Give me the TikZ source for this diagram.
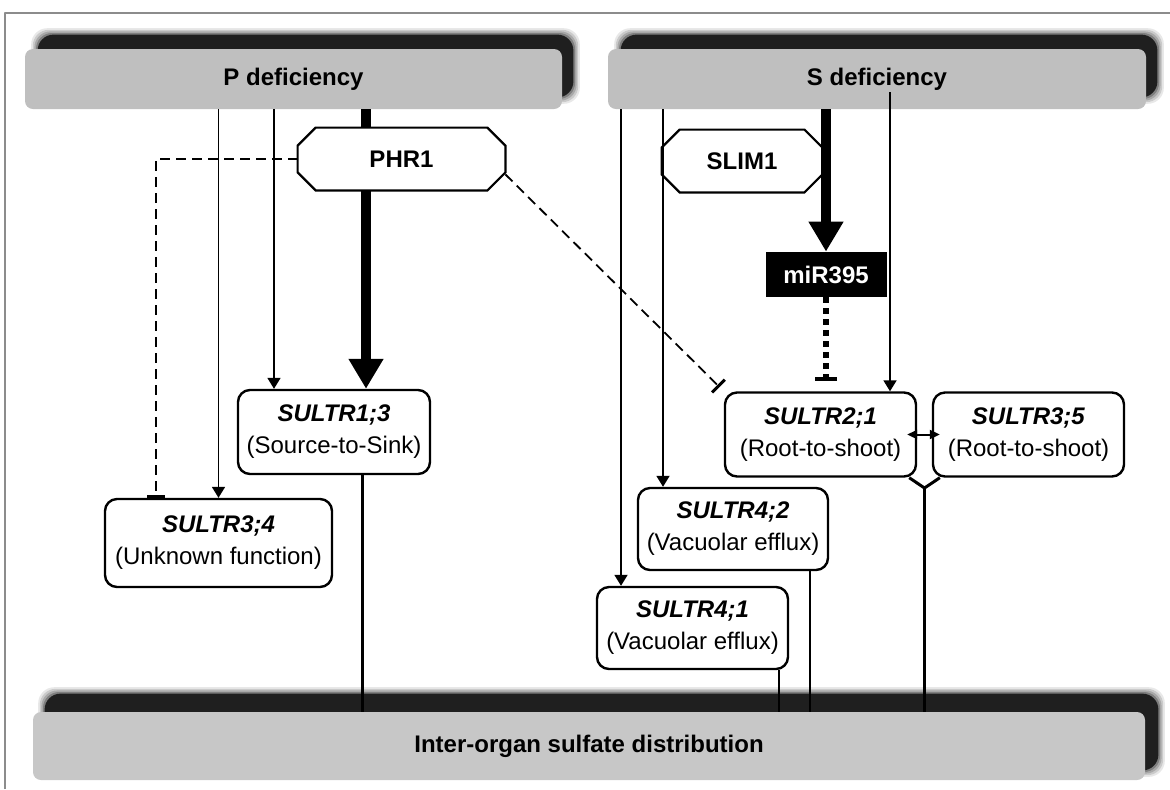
\documentclass[tikz,border=0pt]{standalone}
\usepackage{fontspec}
\setmainfont{Liberation Sans}
\usetikzlibrary{arrows.meta,backgrounds}
\begin{document}
\begin{tikzpicture}[x=0.5pt,y=-0.5pt,line join=round,font=\fontsize{12}{16}\selectfont]
	\tikzset{graybox/.style={fill=black!25,rounded corners=4pt,minimum height=30pt,font=\fontsize{12}{16}\selectfont\bfseries},
		tbox/.style={draw,line width=1.2pt,fill=white,rounded corners=6pt,minimum width=95.5pt,minimum height=42pt,align=center,inner sep=1pt},
		tfbox/.style={minimum height=31pt,font=\fontsize{12}{16}\selectfont\bfseries},
		arr/.style={line width=.9pt,-{Triangle[length=5.5pt,width=6.5pt]}},
		bigarr/.style={line width=5pt,-{Triangle[length=15pt,width=16.5pt]}},
		inhib/.style={line width=.9pt,dash pattern=on 5pt off 3pt,-{Bar[width=9pt,line width=1.5pt]}},
		link/.style={line width=1.5pt}}
	\useasboundingbox (0,0) rectangle (1170,789);
	\draw[black!45,line width=.7pt] (5,789) |- (1170,13);
	% boxes
	\node[graybox,minimum width=268.5pt] (pdef) at (293.5,79) {P deficiency};
	\node[graybox,minimum width=269pt] (sdef) at (877,79) {S deficiency};
	\node[graybox,fill=black!22,minimum width=556pt,minimum height=34pt] (inter) at (589,746) {Inter-organ sulfate distribution};
	\node[tfbox,minimum width=103.5pt] (phr) at (401.5,159) {PHR1};
	\node[tfbox,minimum width=80pt] (slim) at (742,161) {SLIM1};
	\node[fill=black,text=white,font=\fontsize{12}{16}\selectfont\bfseries,minimum width=60.5pt,minimum height=22.5pt] (mir) at (826,274.5) {miR395};
	\node[tbox,minimum width=96pt] (s13) at (334,432) {\textbf{\textit{SULTR1;3}}\\(Source-to-Sink)};
	\node[tbox,minimum width=113.5pt,minimum height=44pt] (s34) at (218.5,543) {\textbf{\textit{SULTR3;4}}\\(Unknown function)};
	\node[tbox] (s21) at (820.5,434.5) {\textbf{\textit{SULTR2;1}}\\(Root-to-shoot)};
	\node[tbox] (s35) at (1028.5,434.5) {\textbf{\textit{SULTR3;5}}\\(Root-to-shoot)};
	\node[tbox,minimum width=95pt,minimum height=41pt] (s42) at (733,529) {\textbf{\textit{SULTR4;2}}\\(Vacuolar efflux)};
	\node[tbox,minimum height=41pt] (s41) at (692.5,628) {\textbf{\textit{SULTR4;1}}\\(Vacuolar efflux)};
	\begin{pgfonlayer}{background}
		\foreach \n/\a/\b/\c/\d in {pdef/6.5/6/7.5/9,sdef/6.5/6/7.5/9,inter/6/5/8.5/11}
		\foreach \k/\o in {4/.1,3/.15,2/.2,1/.3,0/1}
		\fill[black!88,opacity=\o,rounded corners=8pt] ([shift={({(\a-\k*0.8)*1pt},{(\b-\k*0.8)*1pt})}]\n.south west) rectangle ([shift={({(\c+\k*0.8-2)*1pt},{(\d+\k*0.8-2)*1pt})}]\n.north east);
		\foreach \n in {phr,slim}
		\draw[line width=1.1pt,fill=white] ([xshift=9pt]\n.north west) -- ([xshift=-9pt]\n.north east) -- ([yshift=-9pt]\n.north east) -- ([yshift=9pt]\n.south east) -- ([xshift=-9pt]\n.south east) -- ([xshift=9pt]\n.south west) -- ([yshift=9pt]\n.south west) -- ([yshift=-9pt]\n.north west) -- cycle;
	\end{pgfonlayer}
	% P deficiency
	\draw[line width=5pt] (pdef.south -| 366,0) -- (phr.north -| 366,0);
	\draw[bigarr] (phr.south -| 366,0) -- (s13.north -| 366,0);
	\draw[arr] (pdef.south -| 274,0) -- (s13.north -| 274,0);
	\draw[arr] (pdef.south -| s34.north) -- (s34.north);
	\draw[inhib] (phr.west) -| ([xshift=-31.25pt]s34.north);
	\draw[inhib,shorten >=3pt] ([yshift=8pt]phr.south east) -- (s21.north west);
	\draw[link] (s13.south -| 362,0) -- (inter.north -| 362,0);
	% S deficiency
	\draw[bigarr] (sdef.south -| mir.north) -- (mir.north);
	\draw[line width=3pt,dash pattern=on 3pt off 2.5pt,shorten >=5pt,-{Bar[width=11pt,line width=2pt]}] (mir.south) -- (s21.north -| mir.south);
	\draw[arr] (sdef.south -| 890,0) ++(0,-17) -- (s21.north -| 890,0);
	\draw[arr] (sdef.south -| 621,0) -- (s41.north -| 621,0);
	\draw[arr] (sdef.south -| 663,0) -- (s42.north -| 663,0);
	\draw[line width=.8pt] (s41.south -| 779,0) -- (inter.north -| 779,0);
	\draw[line width=.8pt] (s42.south -| 810,0) -- (inter.north -| 810,0);
	\coordinate (vj) at (924.5,488);
	\draw[link] ([xshift=-4pt]s21.south east) -- (vj) -- ([xshift=4pt]s35.south west);
	\draw[link] (vj) -- (vj |- inter.north);
	\draw[line width=1pt,{Triangle[length=5pt,width=4.5pt]}-{Triangle[length=5pt,width=4.5pt]}] ([xshift=-5pt]s21.east) -- ([xshift=4pt]s35.west);
\end{tikzpicture}
\end{document}
